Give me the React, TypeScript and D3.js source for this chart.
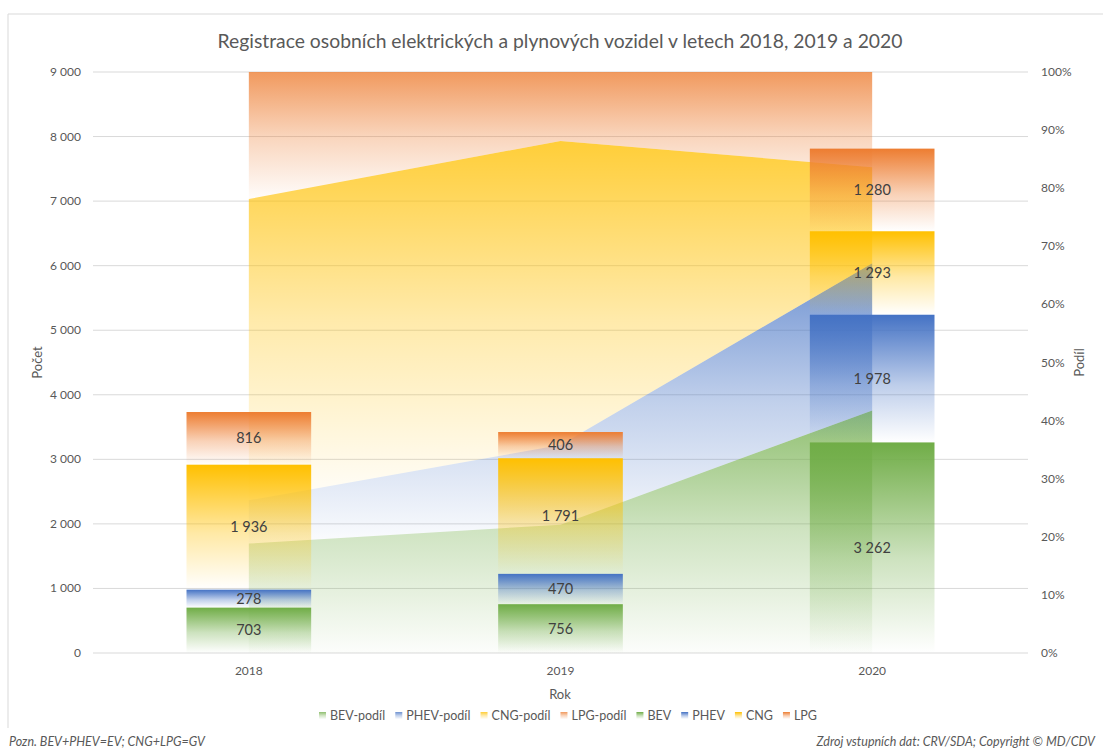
import React from "react";
import * as d3 from "d3";

const years = ["2018", "2019", "2020"];
const seriesKeys = ["BEV", "PHEV", "CNG", "LPG"];
const bevValues = [703, 756, 3262];
const phevValues = [278, 470, 1978];
const cngValues = [1936, 1791, 1293];
const lpgValues = [816, 406, 1280];
const leftTicks = [0, 1000, 2000, 3000, 4000, 5000, 6000, 7000, 8000, 9000];
const rightTicks = [0, 0.1, 0.2, 0.3, 0.4, 0.5, 0.6, 0.7, 0.8, 0.9, 1];
const colors: Record<string, string> = { BEV: "#70AD47", PHEV: "#4472C4", CNG: "#FFC000", LPG: "#ED7D31" };
const legendItems = [
  { label: "BEV-podíl", key: "BEV", kind: "area" },
  { label: "PHEV-podíl", key: "PHEV", kind: "area" },
  { label: "CNG-podíl", key: "CNG", kind: "area" },
  { label: "LPG-podíl", key: "LPG", kind: "area" },
  { label: "BEV", key: "BEV", kind: "bar" },
  { label: "PHEV", key: "PHEV", kind: "bar" },
  { label: "CNG", key: "CNG", kind: "bar" },
  { label: "LPG", key: "LPG", kind: "bar" },
];

const rows = years.map((y, i) => ({
  year: y,
  BEV: bevValues[i],
  PHEV: phevValues[i],
  CNG: cngValues[i],
  LPG: lpgValues[i],
}));

const W = 1103;
const H = 754;
const plotL = 93;
const plotR = 1028;
const plotT = 72;
const plotB = 653;
const FONT = "Lato, 'Open Sans', sans-serif";
const GRAY = "#595959";

const locale = d3.formatLocale({ decimal: ",", thousands: " ", grouping: [3], currency: ["", " Kč"] });
const fmt = locale.format(",d");

function measure(text: string, size: number) {
  try {
    const c = document.createElement("canvas");
    const ctx = c.getContext("2d");
    if (ctx) {
      ctx.font = `${size}px Lato`;
      return ctx.measureText(text).width;
    }
  } catch (e) {}
  return text.length * size * 0.5;
}

export default function App() {
  const x = d3.scaleBand<string>().domain(years).range([plotL, plotR]).paddingInner(0).paddingOuter(0);
  const barW = x.bandwidth() * 0.4;
  const cx = (y: string) => (x(y) as number) + x.bandwidth() / 2;
  const yL = d3.scaleLinear().domain([0, 9000]).range([plotB, plotT]);
  const yR = d3.scaleLinear().domain([0, 1]).range([plotB, plotT]);

  const stackCounts = d3.stack<any>().keys(seriesKeys)(rows);
  const stackShares = d3.stack<any>().keys(seriesKeys).offset(d3.stackOffsetExpand)(rows);

  const area = d3
    .area<any>()
    .x((d: any) => cx(d.data.year))
    .y0((d: any) => yR(d[0]))
    .y1((d: any) => yR(d[1]));

  // legend layout
  const legendY = 716;
  const legendFont = 12.5;
  const gap = 10;
  const itemWidths = legendItems.map((it) => 11 + measure(it.label, legendFont) + gap);
  const totalLegend = d3.sum(itemWidths) - gap;
  let lx = 568 - totalLegend / 2;
  const legendPos = itemWidths.map((w) => {
    const p = lx;
    lx += w;
    return p;
  });

  return (
    <svg width={W} height={H} style={{ position: "absolute", left: 0, top: 0, background: "#fff" }} fontFamily={FONT}>
      <defs>
        {seriesKeys.map((k) => (
          <linearGradient key={"bar" + k} id={"barG" + k} x1="0" y1="0" x2="0" y2="1">
            <stop offset="0" stopColor={colors[k]} stopOpacity={1} />
            <stop offset="0.55" stopColor={colors[k]} stopOpacity={0.35} />
            <stop offset="1" stopColor={colors[k]} stopOpacity={0} />
          </linearGradient>
        ))}
        {seriesKeys.map((k) => (
          <linearGradient key={"area" + k} id={"areaG" + k} x1="0" y1="0" x2="0" y2="1">
            <stop offset="0" stopColor={colors[k]} stopOpacity={0.78} />
            <stop offset="0.5" stopColor={colors[k]} stopOpacity={0.33} />
            <stop offset="1" stopColor={colors[k]} stopOpacity={0.02} />
          </linearGradient>
        ))}
      </defs>
      <rect x={0} y={0} width={W} height={H} fill="#fff" />
      {/* chart border */}
      <line x1={8} y1={14} x2={W} y2={14} stroke="#D9D9D9" />
      <line x1={8} y1={14} x2={8} y2={728} stroke="#D9D9D9" />

      <text x={560} y={48} textAnchor="middle" fontSize={19} fill={GRAY} textLength={685} lengthAdjust="spacingAndGlyphs">
        Registrace osobních elektrických a plynových vozidel v letech 2018, 2019 a 2020
      </text>

      {/* gridlines */}
      {leftTicks.map((t) => (
        <line key={"g" + t} x1={plotL} x2={plotR} y1={yL(t)} y2={yL(t)} stroke="#D9D9D9" strokeWidth={1} />
      ))}

      {/* areas (shares) */}
      {stackShares.map((s) => (
        <path key={"a" + s.key} d={area(s as any) as string} fill={`url(#areaG${s.key})`} />
      ))}

      {/* bars */}
      {stackCounts.map((s) =>
        s.map((d: any) => (
          <rect
            key={"b" + s.key + d.data.year}
            x={cx(d.data.year) - barW / 2}
            y={yL(d[1])}
            width={barW}
            height={yL(d[0]) - yL(d[1])}
            fill={`url(#barG${s.key})`}
          />
        ))
      )}

      {/* data labels */}
      {stackCounts.map((s) =>
        s.map((d: any) => (
          <text
            key={"l" + s.key + d.data.year}
            x={cx(d.data.year)}
            y={(yL(d[0]) + yL(d[1])) / 2 + 5}
            textAnchor="middle"
            fontSize={14.5}
            fill="#404040"
          >
            {fmt(d.data[s.key])}
          </text>
        ))
      )}

      {/* left axis */}
      {leftTicks.map((t) => (
        <text key={"lt" + t} x={81} y={yL(t) + 4} textAnchor="end" fontSize={12} fill={GRAY}>
          {fmt(t)}
        </text>
      ))}
      {/* right axis */}
      {rightTicks.map((t) => (
        <text key={"rt" + t} x={1041} y={yR(t) + 4} textAnchor="start" fontSize={12} fill={GRAY}>
          {d3.format(".0%")(t)}
        </text>
      ))}
      {/* x axis */}
      {years.map((y) => (
        <text key={"xt" + y} x={cx(y)} y={675} textAnchor="middle" fontSize={12} fill={GRAY}>
          {y}
        </text>
      ))}
      <text x={560} y={699} textAnchor="middle" fontSize={13} fill={GRAY}>
        Rok
      </text>
      <text transform={`translate(42,${(plotT + plotB) / 2}) rotate(-90)`} textAnchor="middle" fontSize={13} fill={GRAY}>
        Počet
      </text>
      <text transform={`translate(1084,${(plotT + plotB) / 2}) rotate(-90)`} textAnchor="middle" fontSize={13} fill={GRAY}>
        Podíl
      </text>

      {/* legend */}
      {legendItems.map((it, i) => (
        <g key={"lg" + i} transform={`translate(${legendPos[i]},${legendY})`}>
          <rect x={0} y={-4} width={7} height={7} fill={it.kind === "bar" ? `url(#barG${it.key})` : `url(#areaG${it.key})`} />
          <text x={11} y={4} fontSize={legendFont} fill={GRAY}>
            {it.label}
          </text>
        </g>
      ))}

      {/* footer */}
      <text x={9} y={746} fontSize={12.5} fontStyle="italic" fill={GRAY}>
        Pozn. BEV+PHEV=EV; CNG+LPG=GV
      </text>
      <text x={1095} y={746} textAnchor="end" fontSize={12.5} fontStyle="italic" fill={GRAY}>
        Zdroj vstupních dat: CRV/SDA; Copyright © MD/CDV
      </text>
    </svg>
  );
}
